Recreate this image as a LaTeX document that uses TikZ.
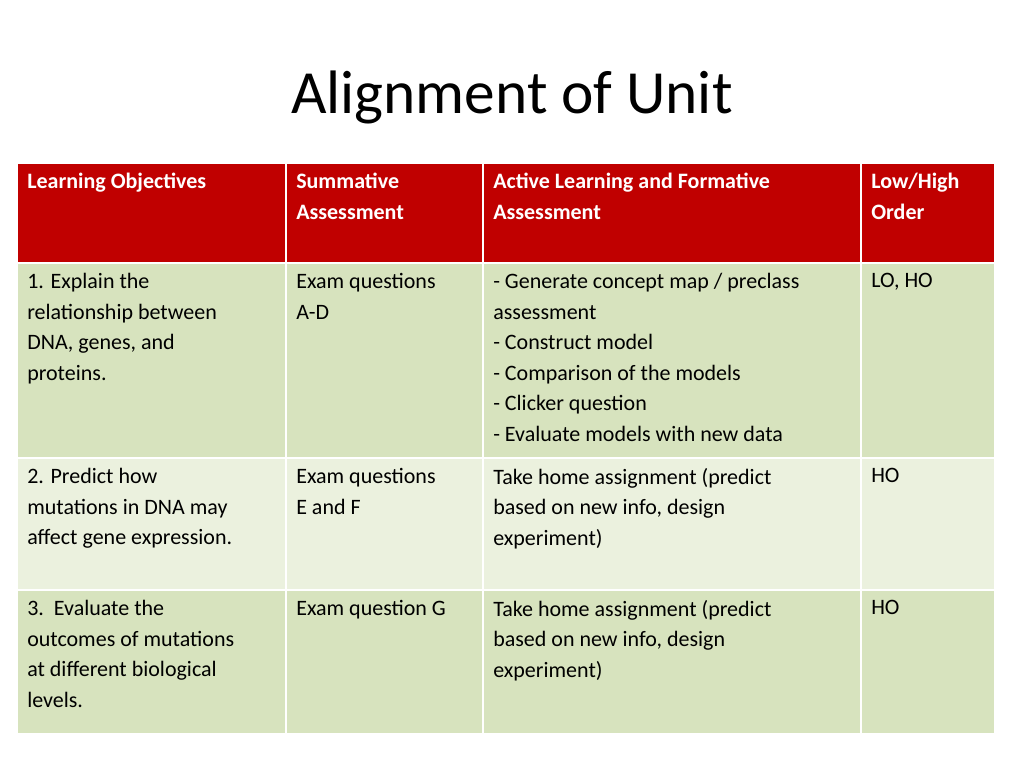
\documentclass[tikz,border=0pt]{standalone}
\usepackage{fontspec}
\setmainfont{Carlito}
\definecolor{head_red}{RGB}{192,0,0}
\definecolor{row_dark}{RGB}{215,227,190}
\definecolor{row_light}{RGB}{235,241,222}
\begin{document}
\begin{tikzpicture}[x=0.75pt,y=0.75pt]
    \tikzstyle{cell}=[draw=white, line width=1.5pt, inner sep=0pt, anchor=north west]
    \tikzstyle{txt}=[anchor=north west, inner sep=0pt, align=left, font=\fontsize{16.5}{22.9}\selectfont]
    \tikzstyle{htxt}=[style=txt, text=white, font=\fontsize{16.5}{22.9}\selectfont\bfseries]
    \useasboundingbox (0,0) rectangle (1024,-768);
    \node[font=\fontsize{46}{50}\selectfont] (title) at (512,-97) {Alignment of Unit};
    % columns x: 16 285 482 860 994, rows y: 162 262 457 589 733
    \foreach \r/\ya/\yb/\col in {h/162/262/head_red, a/262/457/row_dark, b/457/589/row_light, c/589/733/row_dark}{
      \foreach \c/\xa/\xb in {1/16/285, 2/285/482, 3/482/860, 4/860/994}{
        \node[cell, fill=\col, minimum width={(\xb-\xa)*0.75pt}, minimum height={(\yb-\ya)*0.75pt}] (\r\c) at (\xa,-\ya) {};
      }
    }
    \node[htxt] at ([shift={(11,-11)}]h1.north west) {Learning Objectives};
    \node[htxt] at ([shift={(11,-11)}]h2.north west) {Summative\\Assessment};
    \node[htxt] at ([shift={(11,-11)}]h3.north west) {Active Learning and Formative\\Assessment};
    \node[htxt] at ([shift={(11,-11)}]h4.north west) {Low/High\\Order};
    \node[txt] at ([shift={(11,-11)}]a1.north west) {1. Explain the\\relationship between\\DNA, genes, and\\proteins.};
    \node[txt] at ([shift={(11,-11)}]a2.north west) {Exam questions\\A-D};
    \node[txt] at ([shift={(11,-11)}]a3.north west) {- Generate concept map / preclass\\assessment\\- Construct model\\- Comparison of the models\\- Clicker question\\- Evaluate models with new data};
    \node[txt] at ([shift={(11,-11)}]a4.north west) {LO, HO};
    \node[txt] at ([shift={(11,-11)}]b1.north west) {2. Predict how\\mutations in DNA may\\affect gene expression.};
    \node[txt] at ([shift={(11,-11)}]b2.north west) {Exam questions\\E and F};
    \node[txt] at ([shift={(11,-11)}]b3.north west) {Take home assignment (predict\\based on new info, design\\experiment)};
    \node[txt] at ([shift={(11,-11)}]b4.north west) {HO};
    \node[txt] at ([shift={(11,-11)}]c1.north west) {3.\ \ Evaluate the\\outcomes of mutations\\at different biological\\levels.};
    \node[txt] at ([shift={(11,-11)}]c2.north west) {Exam question G};
    \node[txt] at ([shift={(11,-11)}]c3.north west) {Take home assignment (predict\\based on new info, design\\experiment)};
    \node[txt] at ([shift={(11,-11)}]c4.north west) {HO};
\end{tikzpicture}
\end{document}
